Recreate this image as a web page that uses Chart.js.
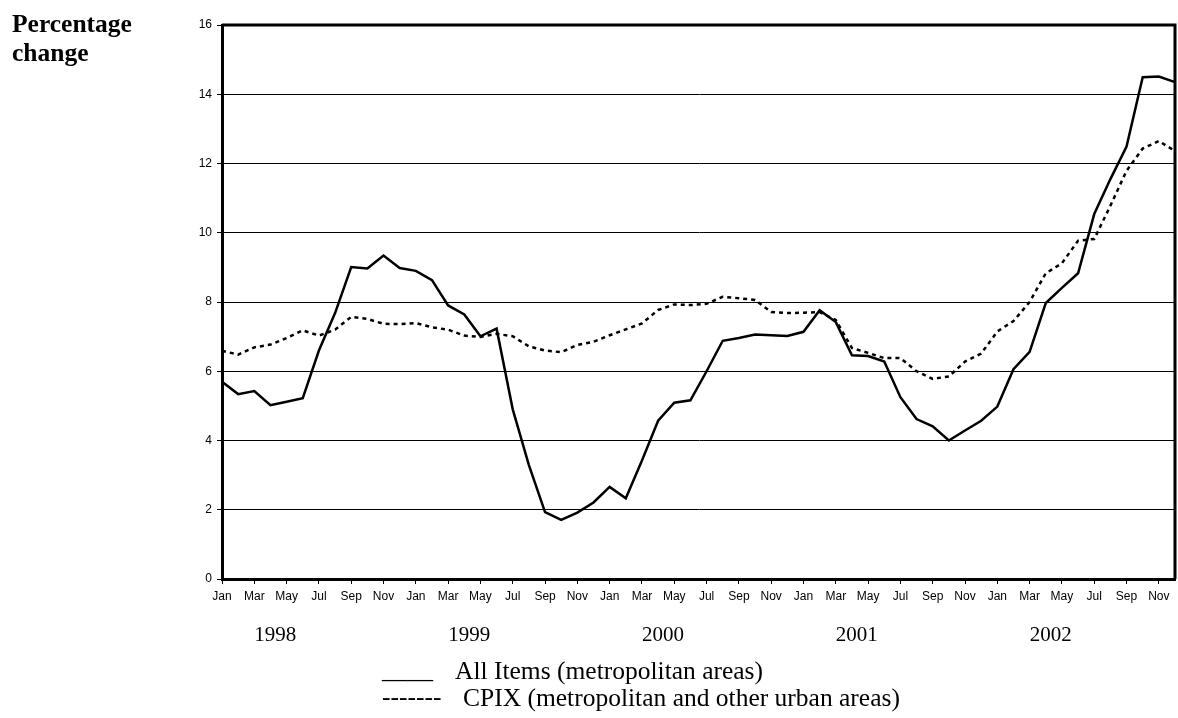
<!DOCTYPE html>
<html>
<head>
<meta charset="utf-8">
<script src="https://cdn.jsdelivr.net/npm/chart.js"></script>
<style>
  body { margin: 0; background: #fff; }
  #wrap { position: relative; width: 1178px; height: 718px; }
  #box { position: absolute; left: 0; top: 0; width: 1178px; height: 718px; }
  .t { position: absolute; font-family: "Liberation Serif", "Times New Roman", serif; color: #000; white-space: pre; line-height: 1; }
  .leg { font-size: 25.5px; }
</style>
</head>
<body>
<div id="wrap">
  <div id="box"><canvas id="chart"></canvas></div>
  <div class="t" style="left:12px;top:9px;font-weight:bold;font-size:25.5px;line-height:29px;">Percentage<br>change</div>
  <div id="years"></div>
  <div class="t leg" style="left:382px;top:657px;">____</div>
  <div class="t leg" style="left:455px;top:658px;">All Items (metropolitan areas)</div>
  <div class="t leg" style="left:382px;top:684px;">-------</div>
  <div class="t leg" style="left:463px;top:685px;">CPIX (metropolitan and other urban areas)</div>
</div>
<script>
var monthNames = ["Jan", "Feb", "Mar", "Apr", "May", "Jun", "Jul", "Aug", "Sep", "Oct", "Nov", "Dec"];
var years = ["1998", "1999", "2000", "2001", "2002"];

// All Items (metropolitan areas), Jan 1998 - Dec 2002
var allItems = [
  5.70, 5.34, 5.43, 5.02, 5.12, 5.22, 6.60, 7.68, 9.01, 8.97, 9.34, 8.98,
  8.90, 8.63, 7.90, 7.64, 7.01, 7.23, 4.90, 3.29, 1.93, 1.71, 1.92, 2.21,
  2.66, 2.33, 3.42, 4.57, 5.09, 5.16, 6.00, 6.88, 6.96, 7.06, 7.04, 7.02,
  7.14, 7.76, 7.42, 6.46, 6.44, 6.28, 5.25, 4.62, 4.41, 4.00, 4.29, 4.57,
  4.98, 6.06, 6.56, 7.97, 8.41, 8.83, 10.54, 11.55, 12.49, 14.49, 14.51, 14.35
];

// CPIX (metropolitan and other urban areas)
var cpix = [
  6.59, 6.48, 6.69, 6.77, 6.96, 7.18, 7.03, 7.20, 7.57, 7.51, 7.37, 7.36,
  7.39, 7.27, 7.20, 7.03, 6.99, 7.08, 7.01, 6.72, 6.60, 6.55, 6.76, 6.85,
  7.04, 7.21, 7.38, 7.77, 7.93, 7.91, 7.95, 8.15, 8.11, 8.06, 7.71, 7.68,
  7.69, 7.71, 7.48, 6.67, 6.53, 6.38, 6.38, 6.00, 5.78, 5.85, 6.28, 6.51,
  7.15, 7.45, 8.00, 8.83, 9.12, 9.77, 9.82, 10.78, 11.79, 12.43, 12.65, 12.36
];

var yTicks = [0, 2, 4, 6, 8, 10, 12, 14, 16];

var labels = [];
for (var y = 0; y < years.length; y++) {
  for (var m = 0; m < 12; m++) labels.push(monthNames[m]);
}

// frame on top and right of the plot
var frame = {
  id: "frame",
  afterDraw: function (chart) {
    var a = chart.chartArea, c = chart.ctx;
    c.save();
    c.strokeStyle = "#000";
    c.lineWidth = 3;
    c.beginPath();
    c.moveTo(a.left, a.top);
    c.lineTo(a.right, a.top);
    c.lineTo(a.right, a.bottom);
    c.stroke();
    c.restore();
  }
};

var ctx = document.getElementById("chart");
var myChart = new Chart(ctx, {
  type: "line",
  data: {
    labels: labels,
    datasets: [
      {
        label: "All Items (metropolitan areas)",
        data: allItems,
        borderColor: "#000",
        borderWidth: 2.5,
        pointRadius: 0,
        tension: 0
      },
      {
        label: "CPIX (metropolitan and other urban areas)",
        data: cpix,
        borderColor: "#000",
        borderWidth: 2.5,
        borderDash: [4, 4],
        pointRadius: 0,
        tension: 0
      }
    ]
  },
  options: {
    responsive: true,
    maintainAspectRatio: false,
    animation: false,
    layout: { padding: { top: 25, right: 3, bottom: 0, left: 0 } },
    plugins: { legend: { display: false }, tooltip: { enabled: false } },
    scales: {
      x: {
        offset: false,
        grid: { drawOnChartArea: false, color: "#000", tickLength: 5 },
        border: { color: "#000", width: 3 },
        ticks: {
          autoSkip: false,
          maxRotation: 0,
          padding: 5,
          color: "#000",
          font: { family: "'Liberation Sans', Arial, sans-serif", size: 12 },
          callback: function (v, i) { return i % 2 === 0 ? labels[i] : null; }
        },
        afterFit: function (s) { s.height = 139; }
      },
      y: {
        min: 0,
        max: 16,
        afterBuildTicks: function (s) { s.ticks = yTicks.map(function (v) { return { value: v }; }); },
        grid: { color: "#000", lineWidth: 1, tickLength: 5 },
        border: { color: "#000", width: 3 },
        ticks: {
          padding: 5,
          color: "#000",
          font: { family: "'Liberation Sans', Arial, sans-serif", size: 12 }
        },
        afterFit: function (s) { s.width = 222; }
      }
    }
  },
  plugins: [frame]
});

// year labels under the month ticks
var xs = myChart.scales.x;
var yearBox = document.getElementById("years");
years.forEach(function (yr, k) {
  var d = document.createElement("div");
  d.className = "t";
  d.style.fontSize = "21px";
  d.style.top = "624px";
  d.style.left = xs.getPixelForValue(k * 12 + 3.3) + "px";
  d.style.transform = "translateX(-50%)";
  d.textContent = yr;
  yearBox.appendChild(d);
});
</script>
</body>
</html>
